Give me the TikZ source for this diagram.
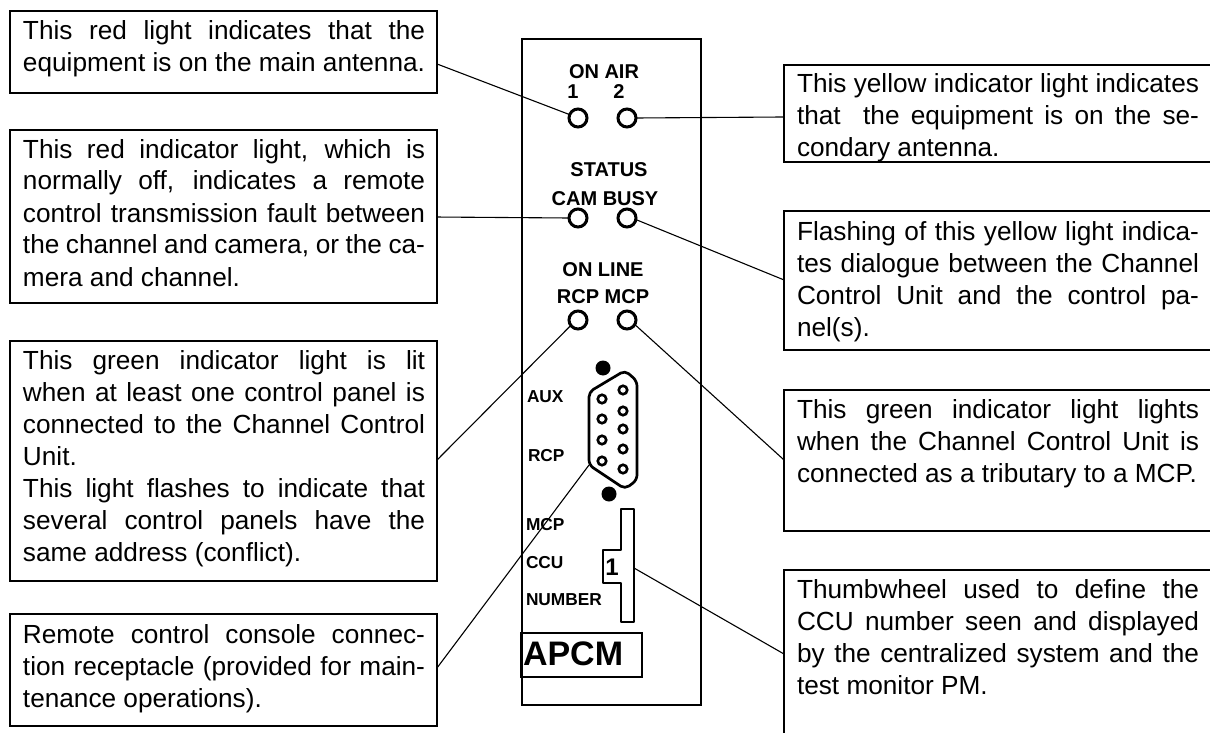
\documentclass[tikz,border=0pt]{standalone}
\usepackage{fontspec}
\setmainfont{Liberation Sans}
\usetikzlibrary{calc}
\newcommand{\jl}[1]{\hbox to 402pt{#1}}
\newcommand{\fl}[1]{\hbox{#1}}
\newcommand{\para}[1]{\vtop{\fontsize{26.2pt}{32pt}\selectfont\baselineskip=32pt\lineskiplimit=-100pt\hsize=402pt #1}}
\tikzset{
  x=1pt,y=-1pt,
  boxnode/.style={draw=black,line width=2pt,rectangle,inner sep=0pt,outer sep=0pt,anchor=north west},
  txt/.style={inner sep=0pt,outer sep=0pt,anchor=base west},
  lab/.style={inner sep=0pt,outer sep=0pt,anchor=base,font=\fontsize{20pt}{20pt}\selectfont\bfseries},
  smlab/.style={inner sep=0pt,outer sep=0pt,anchor=base west,font=\fontsize{17.3pt}{18pt}\selectfont\bfseries},
  lamp/.style={draw=black,circle,line width=3pt,minimum size=18pt,inner sep=0pt,outer sep=0pt},
  pin/.style={draw=black,circle,line width=2.6pt,minimum size=8.5pt,inner sep=0pt,outer sep=0pt},
  dot/.style={fill=black,circle,minimum size=15pt,inner sep=0pt,outer sep=0pt},
  wire/.style={draw=black,line width=1.1pt},
  heavy/.style={draw=black,line width=2.7pt,line join=round},
}
\begin{document}
\begin{tikzpicture}
\useasboundingbox (0,0) rectangle (1210,733);
% boxes
\node[boxnode,minimum width=427pt,minimum height=82pt] (L1) at (10,11) {};
\node[boxnode,minimum width=427pt,minimum height=173pt] (L2) at (10,130) {};
\node[boxnode,minimum width=427pt,minimum height=240pt] (L3) at (10,341) {};
\node[boxnode,minimum width=427pt,minimum height=112pt] (L4) at (10,614) {};
\node[boxnode,minimum width=446pt,minimum height=97pt] (R1) at (784,65) {};
\node[boxnode,minimum width=446pt,minimum height=139pt] (R2) at (784,211) {};
\node[boxnode,minimum width=446pt,minimum height=141pt] (R3) at (784,390) {};
\node[boxnode,minimum width=446pt,minimum height=190pt] (R4) at (784,570) {};
% text
\node[txt] (t1) at (23,40) {\para{\jl{This red light indicates that the}\fl{equipment is on the main antenna.}}};
\node[txt] (t2) at (23,158) {\para{\jl{This red indicator light, which is}\jl{normally off, indicates a remote}\jl{control transmission fault between}\jl{the channel and camera, or the ca-}\fl{mera and channel.}}};
\node[txt] (t3) at (23,369) {\para{\jl{This green indicator light is lit}\jl{when at least one control panel is}\jl{connected to the Channel Control}\fl{Unit.}\jl{This light flashes to indicate that}\jl{several control panels have the}\fl{same address (conflict).}}};
\node[txt] (t4) at (23,643) {\para{\jl{Remote control console connec-}\jl{tion receptacle (provided for main-}\fl{tenance operations).}}};
\node[txt] (t5) at (797,93) {\para{\jl{This yellow indicator light indicates}\jl{that\ \ the equipment is on the se-}\fl{condary antenna.}}};
\node[txt] (t6) at (797,240) {\para{\jl{Flashing of this yellow light indica-}\jl{tes dialogue between the Channel}\jl{Control Unit and the control pa-}\fl{nel(s).}}};
\node[txt] (t7) at (797,418) {\para{\jl{This green indicator light lights}\jl{when the Channel Control Unit is}\fl{connected as a tributary to a MCP.}}};
\node[txt] (t8) at (797,598) {\para{\jl{Thumbwheel used to define the}\jl{CCU number seen and displayed}\jl{by the centralized system and the}\fl{test monitor PM.}}};
% panel
\node[boxnode,line width=2.8pt,minimum width=179pt,minimum height=666pt] (panel) at (522,39) {};
% labels
\node[lab] (onair) at (604,79) {ON AIR};
\node[lab] (n1) at (573,99) {1};
\node[lab] (n2) at (619,99) {2};
\node[lab] (status) at (609,176) {STATUS};
\node[lab] (cambusy) at (605,205) {CAM BUSY};
\node[lab] (online) at (603,276) {ON LINE};
\node[lab] (rcpmcp) at (603,303) {RCP MCP};
\node[smlab] (aux) at (527,402) {AUX};
\node[smlab] (rcp) at (528,461) {RCP};
\node[smlab] (mcp) at (526,530) {MCP};
\node[smlab] (ccu) at (526,568) {CCU};
\node[smlab] (number) at (526,605) {NUMBER};
% lamps
\node[lamp] (a1) at (578,118) {};
\node[lamp] (a2) at (627,118) {};
\node[lamp] (b1) at (578,218) {};
\node[lamp] (b2) at (627,218) {};
\node[lamp] (c1) at (578,320) {};
\node[lamp] (c2) at (627,320) {};
% connector
\node[dot] (d1) at (603,368) {};
\node[dot] (d2) at (609,494) {};
\draw[heavy,rounded corners=5pt] (589,392) -- (625,370.5) -- (637,381) -- (637,480) -- (625,489) -- (589,465) -- cycle;
\coordinate (dbleft) at (589,465);
\foreach \y [count=\i] in {390,411,429,449,469} \node[pin] (pr\i) at (623,\y) {};
\foreach \y [count=\i] in {399,419,440,461} \node[pin] (pl\i) at (602,\y) {};
% thumbwheel
\draw[heavy,line width=2.4pt] (621,509) -- (634,509) -- (634,622) -- (621,622) -- (621,583) -- (603,583) -- (603,550) -- (621,550) -- cycle;
\coordinate (thumb) at (634,568);
\node[inner sep=0pt,anchor=base,font=\fontsize{24pt}{24pt}\selectfont\bfseries] (one) at (612,575) {1};
% APCM
\node[boxnode,line width=2.8pt,minimum width=121pt,minimum height=44pt] (apcmbox) at (521,633) {};
\node[txt,font=\fontsize{34pt}{34pt}\selectfont\bfseries] (apcm) at (523,665) {APCM};
% wires
\draw[wire] ($(L1.south east)!.354!(L1.north east)$) -- (a1.158);
\draw[wire] ($(L2.south east)!.497!(L2.north east)$) -- (b1.west);
\draw[wire] ($(L3.south east)!.504!(L3.north east)$) -- (c1.217);
\draw[wire] ($(L4.south east)!.518!(L4.north east)$) -- (dbleft);
\draw[wire] ($(R1.south west)!.464!(R1.north west)$) -- (a2.east);
\draw[wire] ($(R2.south west)!.504!(R2.north west)$) -- (b2.-10);
\draw[wire] ($(R3.south west)!.504!(R3.north west)$) -- (c2.-30);
\draw[wire] ($(R4.south west)!.5!(R4.north west)+(0,-11)$) -- (thumb);
\end{tikzpicture}
\end{document}
